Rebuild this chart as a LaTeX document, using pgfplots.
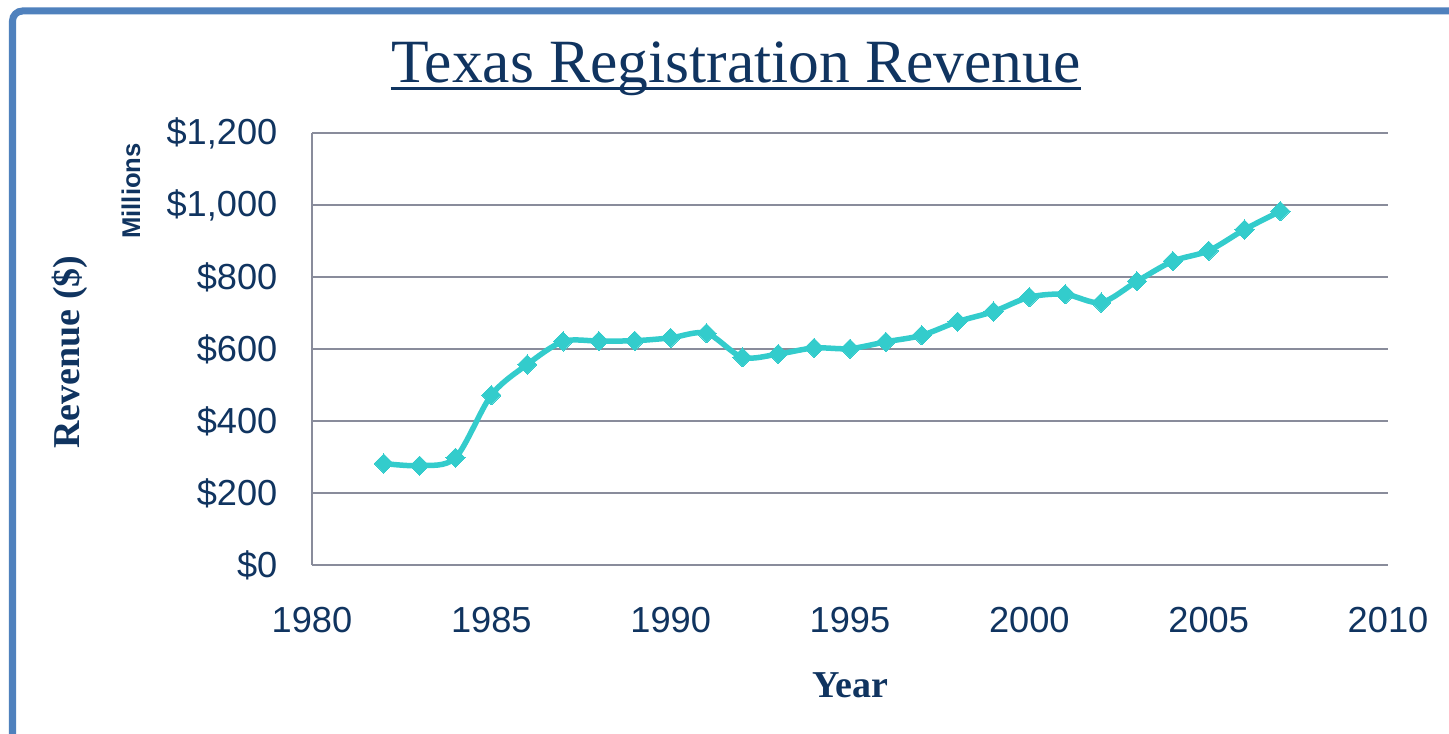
\documentclass[border=0pt]{standalone}
\usepackage{fontspec}
\setmainfont{Liberation Serif}
\setsansfont{Liberation Sans}
\usepackage{pgfplots}
\pgfplotsset{compat=1.18}
\definecolor{navy}{RGB}{16,52,96}
\definecolor{teal1}{RGB}{51,204,204}
\definecolor{gridc}{RGB}{137,140,155}
\definecolor{frameblue}{RGB}{79,129,189}

\pgfplotstableread{
year rev
1982 282
1983 276
1984 298
1985 472
1986 557
1987 621
1988 622
1989 623
1990 631
1991 644
1992 577
1993 586
1994 603
1995 601
1996 620
1997 638
1998 676
1999 704
2000 744
2001 752
2002 729
2003 788
2004 844
2005 873
2006 932
2007 983
}\revdata

\begin{document}
\begin{tikzpicture}[x=1cm,y=1cm]
\useasboundingbox (0,0) rectangle (14.49,7.33);
\fill[white] (0,0) rectangle (14.49,7.33);
\draw[frameblue, line width=0.07cm, rounded corners=0.1cm] (0.125,-0.1) -- (0.125,7.22) -- (14.6,7.22);

\begin{axis}[
  at={(3.12cm,1.68cm)}, anchor=south west,
  scale only axis, width=10.76cm, height=4.32cm,
  xmin=1980, xmax=2010, ymin=0, ymax=1200,
  xtick={1980,1985,...,2010},
  xticklabels={1980,1985,1990,1995,2000,2005,2010},
  ytick={0,200,...,1200},
  yticklabels={\$0,\$200,\$400,\$600,\$800,{\$1,000},{\$1,200}},
  axis lines*=left,
  axis line style={gridc, line width=0.02cm, -},
  ymajorgrids,
  grid style={gridc, line width=0.02cm},
  major tick length=0pt,
  tick style={draw=none},
  ticklabel style={font=\sffamily\fontsize{10.3}{12}\selectfont, text=navy},
  xticklabel style={anchor=north, inner sep=0pt, yshift=-0.42cm},
  yticklabel style={anchor=east, inner sep=0pt, xshift=-0.34cm},
  clip=false,
]
\addplot[teal1, line width=0.055cm, smooth, tension=0.5,
  mark=square*, mark size=0.068cm,
  mark options={solid, fill=teal1, draw=teal1, rotate=45, line width=0pt}]
  table[x=year, y=rev] {\revdata};
\end{axis}

\node[anchor=base, font=\fontsize{17.5}{20}\selectfont, text=navy, inner sep=0pt] (T) at (7.36,6.50) {Texas Registration Revenue};
\draw[navy, line width=0.03cm] ([yshift=-0.06cm]T.base west) -- ([yshift=-0.06cm]T.base east);

\node[rotate=90, font=\bfseries\fontsize{10.8}{13}\selectfont, text=navy] at (0.70,3.81) {Revenue (\$)};
\node[rotate=90, font=\sffamily\bfseries\fontsize{7.3}{9}\selectfont, text=navy] at (1.31,5.42) {Millions};
\node[anchor=base, font=\bfseries\fontsize{10.8}{13}\selectfont, text=navy, inner sep=0pt] at (8.50,0.36) {Year};
\end{tikzpicture}
\end{document}
